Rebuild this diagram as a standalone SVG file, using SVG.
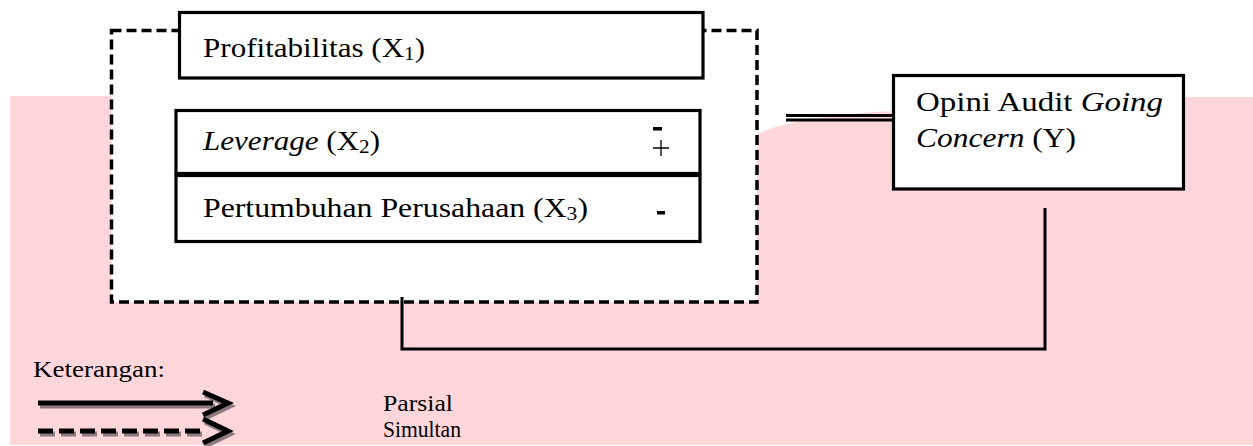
<svg xmlns="http://www.w3.org/2000/svg" width="1253" height="446" viewBox="0 0 1253 446">
<style>
.t{font-family:"Liberation Serif","Times New Roman",serif;fill:#000}
.box{fill:#fff;stroke:#000;stroke-width:3.2}
.conn{fill:none;stroke:#000;stroke-width:3}
.dash{fill:#fff;stroke:#000;stroke-width:3.5;stroke-dasharray:10 5}
.sh{fill:none;stroke:#8c7b7d}
.ar{fill:none;stroke:#000}
</style>
<rect width="1253" height="446" fill="#fff"/>
<path id="bg" d="M10,96 L757,96 L757,134 Q795,116 893,111 L893,97 L1253,97 L1253,445 L10,445 Z" fill="#ffd7da"/>
<g id="simultan-frame">
<rect class="dash" x="111.5" y="30.5" width="645.5" height="271.5"/>
</g>
<g id="x1">
<rect class="box" x="179.5" y="12.5" width="523.5" height="65.5"/>
<text class="t" x="203" y="57" font-size="28" textLength="222" lengthAdjust="spacingAndGlyphs">Profitabilitas (X<tspan font-size="19" dy="3">1</tspan><tspan dy="-3">)</tspan></text>
</g>
<g id="x2">
<rect class="box" x="176" y="110.5" width="524" height="63"/>
<text class="t" x="203" y="150" font-size="28" textLength="177" lengthAdjust="spacingAndGlyphs"><tspan font-style="italic">Leverage</tspan> (X<tspan font-size="19" dy="3">2</tspan><tspan dy="-3">)</tspan></text>
<rect x="653" y="127" width="9" height="3.5" fill="#000"/>
<path d="M653,148 H669 M661,140 V156" stroke="#000" stroke-width="1.3" fill="none"/>
</g>
<g id="x3">
<rect class="box" x="176" y="175.5" width="524" height="66"/>
<text class="t" x="203" y="217" font-size="28" textLength="385" lengthAdjust="spacingAndGlyphs">Pertumbuhan Perusahaan (X<tspan font-size="19" dy="3">3</tspan><tspan dy="-3">)</tspan></text>
<rect x="657" y="211" width="8" height="3.5" fill="#000"/>
</g>
<g id="y">
<rect class="box" x="893.5" y="75.5" width="290" height="113.5" stroke-width="3.5"/>
<text class="t" x="916" y="111" font-size="28" textLength="247" lengthAdjust="spacingAndGlyphs">Opini Audit <tspan font-style="italic">Going</tspan></text>
<text class="t" x="916" y="147" font-size="28" textLength="160" lengthAdjust="spacingAndGlyphs"><tspan font-style="italic">Concern</tspan> (Y)</text>
</g>
<g id="connectors">
<line x1="786" y1="115.5" x2="893" y2="115.5" stroke="#000" stroke-width="3.2"/>
<line x1="786" y1="120" x2="893" y2="120" stroke="#000" stroke-width="3.2"/>
<polyline class="conn" points="402,297 402,349 1045,349 1045,208"/>
</g>
<g id="legend">
<text class="t" x="33" y="377" font-size="23" textLength="132" lengthAdjust="spacingAndGlyphs">Keterangan:</text>
<line class="sh" x1="40" y1="406" x2="215" y2="406" stroke-width="5"/>
<polyline class="sh" points="205,395 230,406 205,418" stroke-width="5"/>
<line class="ar" x1="38" y1="403" x2="213" y2="403" stroke-width="5"/>
<polyline class="ar" points="203,392 228,403 203,415" stroke-width="5"/>
<line class="sh" x1="40" y1="434" x2="205" y2="434" stroke-width="5" stroke-dasharray="15 6"/>
<polyline class="sh" points="205,422 230,434 205,446" stroke-width="5"/>
<line class="ar" x1="38" y1="431" x2="203" y2="431" stroke-width="5" stroke-dasharray="15 6"/>
<polyline class="ar" points="203,419 228,431 203,443" stroke-width="5"/>
<text class="t" x="383" y="411" font-size="23" textLength="70" lengthAdjust="spacingAndGlyphs">Parsial</text>
<text class="t" x="383" y="437" font-size="23" textLength="78" lengthAdjust="spacingAndGlyphs">Simultan</text>
</g>
</svg>
